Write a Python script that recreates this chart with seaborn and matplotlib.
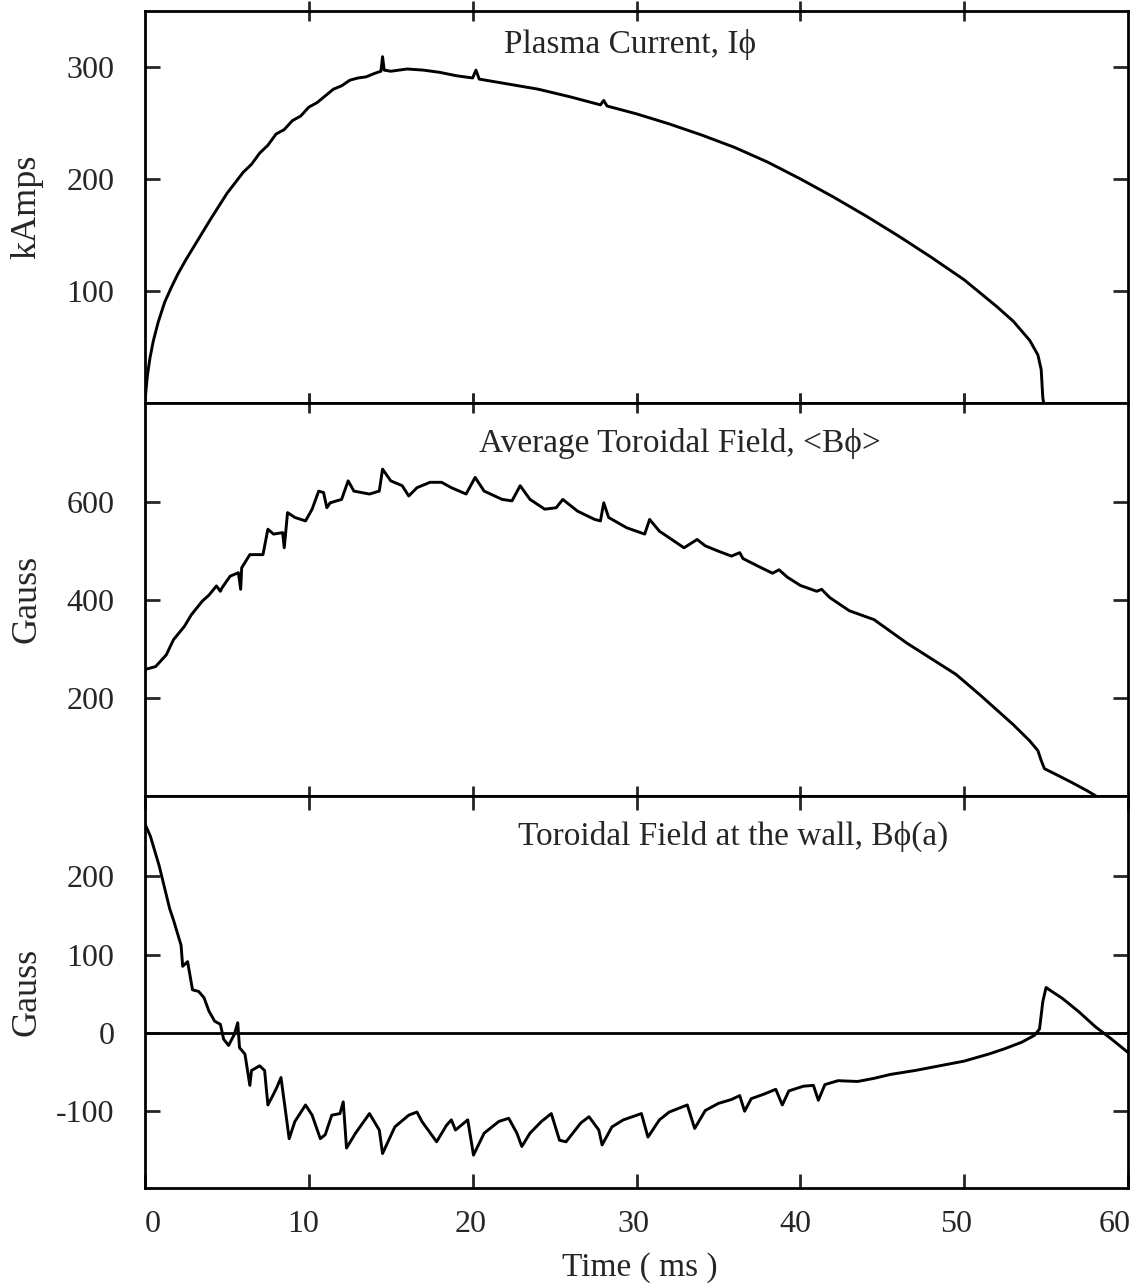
import numpy as np
import pandas as pd
import matplotlib
matplotlib.use("Agg")
import matplotlib.pyplot as plt
import matplotlib.transforms as mtransforms
import seaborn as sns

# ---------------- data ----------------
t_ip = [0.0, 0.05, 0.15, 0.3, 0.5, 0.8, 1.2, 1.6, 2.0, 2.5, 3.0, 3.5, 4.0, 5.0,
        6.0, 6.5, 7.0, 7.5, 8.0,
        8.5, 9.0, 9.5, 10.0, 10.5, 11.0, 11.5, 12.0, 12.5, 13.0, 13.5, 14.0, 14.4,
        14.5, 14.6, 15.0, 16.0, 17.0, 18.0, 19.0, 20.0, 20.2, 20.4, 22.0, 24.0,
        26.0, 27.8, 28.0, 28.2, 30.0, 32.0, 34.0, 36.0, 38.0, 40.0, 42.0, 44.0,
        46.0, 48.0, 50.0, 51.0, 52.0, 53.0, 54.0, 54.5, 54.7, 54.8, 54.9]
i_phi = [0, 10, 25, 40, 55, 72, 90, 103, 115, 128, 140, 152, 164, 187,
         206, 213, 223, 230, 240,
         244, 252, 256, 264, 268, 274, 280, 283, 288, 290, 291, 294, 296,
         309, 297, 296, 298, 297, 295, 292, 290, 297, 289, 285, 280,
         273, 266, 270, 265, 258, 249, 239, 228, 215, 200, 184, 167,
         149, 130, 110, 98, 86, 73, 56, 43, 30, 5, -5]

t_bavg = [0.0, 0.65, 1.3, 1.74, 2.4, 2.83, 3.5, 3.9, 4.36, 4.6, 4.7, 5.2, 5.7,
          5.84, 5.9, 6.4, 7.2, 7.5, 7.85, 8.4, 8.5, 8.7, 9.15, 9.8, 10.2, 10.6,
          10.9, 11.1, 11.3, 12.0, 12.4, 12.75, 13.7, 14.3, 14.5, 15.0, 15.7,
          16.1, 16.6, 17.4, 18.1, 18.7, 19.6, 20.15, 20.7, 21.8, 22.4, 22.9,
          23.5, 24.4, 25.1, 25.5, 26.4, 27.45, 27.8, 28.0, 28.3, 29.4, 30.5,
          30.8, 31.4, 32.9, 33.7, 34.2, 35.0, 35.8, 36.3, 36.5, 37.5, 38.3,
          38.7, 39.2, 40.0, 41.0, 41.3, 41.8, 43.0, 44.5, 45.5, 46.5, 48.0,
          49.5, 51.0, 52.0, 53.0, 54.0, 54.5, 54.7, 54.9, 55.5, 56.5, 57.5,
          58.0, 58.5]
b_avg = [258, 264, 288, 319, 346, 370, 398, 410, 429, 418, 425, 449, 456,
         422, 466, 493, 493, 545, 535, 538, 507, 579, 569, 562, 586, 623,
         620, 589, 599, 606, 644, 623, 617, 623, 668, 644, 634,
         613, 630, 641, 641, 630, 617, 651, 623, 606, 603, 634,
         606, 586, 589, 606, 582, 565, 562, 599, 569, 548, 535,
         565, 541, 507, 524, 511, 500, 490, 497, 485, 468, 455,
         462, 447, 430, 418, 422, 405, 378, 360, 336, 312, 280,
         248, 205, 175, 145, 112, 92, 72, 55, 45, 28, 10,
         0, -12]

t_bwall = [0.0, 0.1, 0.33, 0.87, 1.5, 1.74, 2.2, 2.3, 2.6, 2.9, 3.27, 3.6, 3.9,
           4.25, 4.6, 4.8, 5.1, 5.45, 5.66, 5.77, 6.1, 6.4, 6.5, 7.0, 7.3, 7.5,
           7.85, 8.06, 8.3, 8.5, 8.8, 9.15, 9.8, 10.2, 10.7, 11.0, 11.4, 11.9,
           12.1, 12.3, 12.85, 13.7, 14.3, 14.5, 15.25, 16.1, 16.6, 16.9, 17.8,
           18.4, 18.7, 18.95, 19.7, 20.05, 20.7, 21.6, 22.2, 22.7, 23.0, 23.5,
           24.2, 24.8, 25.3, 25.7, 26.6, 27.1, 27.7, 27.9, 28.5, 29.2, 30.3,
           30.7, 31.4, 32.0, 33.1, 33.55, 34.2, 35.0, 35.8, 36.3, 36.6, 37.0,
           37.8, 38.5, 38.9, 39.3, 40.2, 40.8, 41.1, 41.5, 42.3, 43.5, 44.5,
           45.5, 47.0, 48.5, 50.0, 51.5, 52.5, 53.5, 54.3, 54.6, 54.8, 55.0,
           55.2, 56.0, 57.0, 58.0, 59.0, 60.0]
b_wall = [266, 262, 251, 213, 159, 144, 112, 85, 91, 55, 53, 45, 28,
          15, 11, -8, -16, -2, 13, -19, -27, -67, -48, -42, -48, -92,
          -78, -69, -57, -88, -135, -113, -92, -105, -135, -130, -105, -103,
          -88, -147, -128, -103, -124, -154, -120, -105, -101, -113, -139,
          -118, -111, -124, -111, -156, -128, -113, -109, -128, -145, -128,
          -113, -103, -137, -139, -115, -107, -124, -143, -120, -111, -103,
          -133, -111, -101, -92, -122, -99, -90, -85, -80, -100, -84,
          -78, -72, -92, -74, -68, -67, -86, -66, -61, -62, -58,
          -53, -48, -42, -36, -27, -20, -12, -3, 5, 40, 58,
          55, 44, 27, 8, -8, -25]

titles = ["Plasma Current, I\u03d5", "Average Toroidal Field, <B\u03d5>",
          "Toroidal Field at the wall, B\u03d5(a)"]
ylabels = ["kAmps", "Gauss", "Gauss"]
yticks = [[100, 200, 300], [200, 400, 600], [-100, 0, 100, 200]]
xticks = [10, 20, 30, 40, 50]
xticks_bottom = [0, 10, 20, 30, 40, 50, 60]
xticklabels = ["0", "10", "20", "30", "40", "50", "60"]

# ---------------- styling ----------------
sns.set_theme(style="ticks")
plt.rcParams["font.family"] = ["Liberation Serif", "DejaVu Serif"]
plt.rcParams["axes.linewidth"] = 2.0
plt.rcParams["axes.unicode_minus"] = False

W, H = 1139, 1288
fig = plt.figure(figsize=(W / 100, H / 100), dpi=100)

left, right = 145 / W, 1128 / W
top_px, bot_px = 10.7, 1188
ph = (bot_px - top_px) / 3
ylims = [(0, 350), (0, 803), (-198, 303)]
title_pos = [(0.493, 0.915), (0.544, 0.897), (0.598, 0.897)]
label_shift_px = [8, -6, -2, -3, -5, -8, -13]

series = [(t_ip, i_phi), (t_bavg, b_avg), (t_bwall, b_wall)]
for k in range(3):
    y0 = 1 - (top_px + (k + 1) * ph) / H
    ax = fig.add_axes([left, y0, right - left, ph / H])
    t, v = series[k]
    df = pd.DataFrame({"t": t, "v": v})
    sns.lineplot(data=df, x="t", y="v", ax=ax, color="black", linewidth=2.1,
                 estimator=None, sort=False)
    ax.set_xlim(0, 60)
    ax.set_ylim(*ylims[k])
    ax.set_yticks(yticks[k])
    ax.set_xticks(xticks)
    ax.tick_params(axis="y", direction="in", length=11, width=2,
                   left=True, right=True, labelsize=23, pad=22)
    ax.tick_params(axis="x", direction="inout", length=14, width=2,
                   top=True, bottom=True, labelbottom=False)
    for s in ax.spines.values():
        s.set_color("black")
        s.set_linewidth(2.0)
    ax.set_xlabel("")
    ax.set_ylabel(ylabels[k], fontsize=26)
    ax.yaxis.set_label_coords(-0.103, 0.5)
    ax.text(title_pos[k][0], title_pos[k][1], titles[k], transform=ax.transAxes,
            ha="center", va="center", fontsize=24)
    if k == 2:
        ax.axhline(0, color="black", linewidth=2.0, zorder=1)
        ax.set_xticks(xticks_bottom)
        ax.set_xticklabels(xticklabels)
        ax.tick_params(axis="x", direction="in", length=10, labelbottom=True,
                       labelsize=23, pad=16)
        for lab, dx in zip(ax.get_xticklabels(), label_shift_px):
            lab.set_transform(lab.get_transform() +
                              mtransforms.ScaledTranslation(dx / 100, 0,
                                                            fig.dpi_scale_trans))

fig.text(640 / W, 1 - 1268 / H, "Time ( ms )", ha="center", va="center",
         fontsize=24)

fig.savefig("out.png", dpi=100, facecolor="white")
